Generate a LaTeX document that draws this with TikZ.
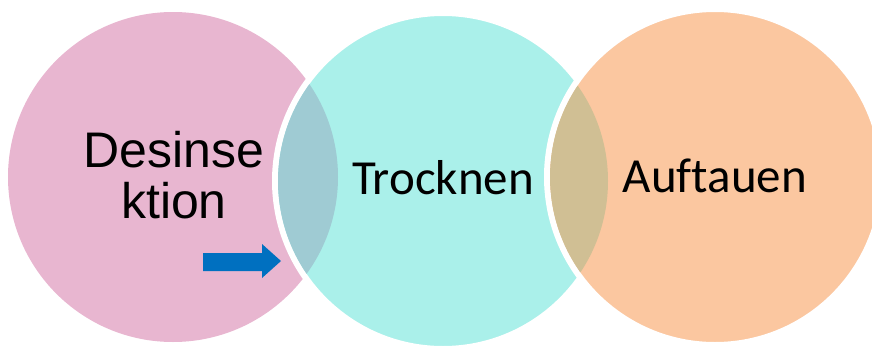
\documentclass[tikz,border=0pt]{standalone}
\usepackage{fontspec}
\setmainfont{Liberation Sans}
\newfontfamily\carlito[Ligatures=CommonOff]{Carlito}
\usepackage{xcolor}

\definecolor{pinkfill}{HTML}{E8B6D0}
\definecolor{cyanfill}{HTML}{AAF0EA}
\definecolor{orangefill}{HTML}{FBC7A0}
\definecolor{pinkcyan}{HTML}{9FCBD3}
\definecolor{cyanorange}{HTML}{D0BF94}
\definecolor{arrowblue}{HTML}{0070C0}

\begin{document}
\begin{tikzpicture}[x=0.75pt,y=-0.75pt]
\useasboundingbox (0,0) rectangle (872,347);
\clip (0,0) rectangle (872,347);
\fill[pinkfill] (173,177) circle (165);
\filldraw[fill=cyanfill, draw=white, line width=4.5pt] (443,181) circle (168);
\begin{scope}
\clip (173,177) circle (165);
\fill[pinkcyan] (443,181) circle (165);
\end{scope}
\filldraw[fill=orangefill, draw=white, line width=4.5pt] (715,177) circle (168);
\begin{scope}
\clip (443,181) circle (165);
\fill[cyanorange] (715,177) circle (165);
\end{scope}
\node[font=\fontsize{37.5}{38.25}\selectfont, align=center] (desinf) at (174,175) {Desinse\\ktion};
\node[font=\carlito\fontsize{36.75}{38.25}\selectfont] (trocknen) at (443,178) {Trocknen};
\node[font=\carlito\fontsize{36.75}{38.25}\selectfont] (auftauen) at (715,176) {Auftauen};
\fill[arrowblue] (203,253) -- (262,253) -- (262,244) -- (281,261) -- (262,278) -- (262,271) -- (203,271) -- cycle;
\end{tikzpicture}
\end{document}
